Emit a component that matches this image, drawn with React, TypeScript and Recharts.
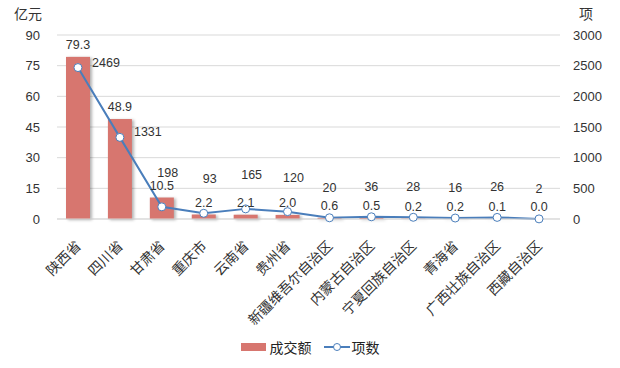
import React from 'react';
import { ComposedChart, Bar, Line, XAxis, YAxis, CartesianGrid, Legend, LabelList } from 'recharts';

const categories = ['陕西省', '四川省', '甘肃省', '重庆市', '云南省', '贵州省', '新疆维吾尔自治区', '内蒙古自治区', '宁夏回族自治区', '青海省', '广西壮族自治区', '西藏自治区'];
const amounts = [79.3, 48.9, 10.5, 2.2, 2.1, 2.0, 0.6, 0.5, 0.2, 0.2, 0.1, 0.0];
const counts = [2469, 1331, 198, 93, 165, 120, 20, 36, 28, 16, 26, 2];
const leftTicks = [0, 15, 30, 45, 60, 75, 90];
const rightTicks = [0, 500, 1000, 1500, 2000, 2500, 3000];

const data = categories.map((name, i) => ({ name, amount: amounts[i], count: counts[i] }));

const BAR_COLOR = '#D7766F';
const LINE_COLOR = '#4A7EBB';
const TEXT = '#333333';
const NUM_FONT = '"Liberation Sans", Arial, sans-serif';
const CJK_FONT = '"Noto Sans CJK SC", sans-serif';

const CatTick = (props: any) => {
  const { x, y, payload } = props;
  return (
    <g transform={`translate(${x - 4},${y + 12})`}>
      <text transform="rotate(-45)" textAnchor="end" dy="0.8em" fontSize={14} fontFamily={CJK_FONT} fill={TEXT}>
        {payload.value}
      </text>
    </g>
  );
};

const LineLabel = (props: any) => {
  const { x, y, value, index } = props;
  let lx = x;
  let ly = y;
  if (index < 2) {
    lx = x + 28;
    ly = y - 1;
  } else if (index < 6) {
    lx = x + 6;
    ly = y - 30;
  } else {
    ly = y - 26;
  }
  return (
    <text x={lx} y={ly} textAnchor="middle" fontSize={12.5} fontFamily={NUM_FONT} fill={TEXT}>
      {value}
    </text>
  );
};

const BarLabel = (props: any) => {
  const { x, y, width, value } = props;
  return (
    <text x={x + width / 2} y={y - 8} textAnchor="middle" fontSize={12.5} fontFamily={NUM_FONT} fill={TEXT}>
      {Number(value).toFixed(1)}
    </text>
  );
};

const BarShape = (props: any) => {
  const { x, y, width, height } = props;
  if (!height || height <= 0) return null;
  return (
    <rect x={x} y={y} width={width} height={height} fill={BAR_COLOR}
      style={{ filter: 'drop-shadow(2px 1px 1.5px rgba(0,0,0,0.3))' }} />
  );
};

const LegendContent = () => (
  <div style={{ height: 40, boxSizing: 'border-box', paddingTop: 14, display: 'flex', justifyContent: 'center', alignItems: 'flex-start', fontFamily: CJK_FONT, fontSize: 14, color: '#222', lineHeight: '20px' }}>
    <span style={{ display: 'inline-block', width: 25, height: 8, background: BAR_COLOR, marginRight: 4, marginTop: 6 }} />
    <span style={{ marginRight: 12 }}>成交额</span>
    <svg width={26} height={10} style={{ marginRight: 2, marginTop: 5 }}>
      <line x1={0} y1={5} x2={26} y2={5} stroke={LINE_COLOR} strokeWidth={2} />
      <circle cx={13} cy={5} r={3.5} fill="#fff" stroke={LINE_COLOR} strokeWidth={1} />
    </svg>
    <span>项数</span>
  </div>
);

export default function App() {
  return (
    <div style={{ position: 'absolute', left: 0, top: 0, width: 620, height: 368, background: '#fff' }}>
      <div style={{ position: 'absolute', left: 14, top: 3, fontFamily: CJK_FONT, fontSize: 14, color: TEXT, lineHeight: '20px' }}>亿元</div>
      <div style={{ position: 'absolute', left: 579, top: 3, fontFamily: CJK_FONT, fontSize: 14, color: TEXT, lineHeight: '20px' }}>项</div>
      <ComposedChart width={620} height={368} data={data} margin={{ top: 35, right: 0, left: 0, bottom: 5 }} barCategoryGap={0}>
        <CartesianGrid vertical={false} stroke="#D9D9D9" yAxisId="left" />
        <XAxis dataKey="name" interval={0} tickLine={false} axisLine={{ stroke: '#D9D9D9' }} height={104} tick={<CatTick />} />
        <YAxis yAxisId="left" orientation="left" width={57} domain={[0, 90]} ticks={leftTicks} axisLine={false} tickLine={false}
          tickSize={0} tickMargin={17} tick={{ fontSize: 13, fontFamily: NUM_FONT, fill: TEXT }} />
        <YAxis yAxisId="right" orientation="right" width={60} domain={[0, 3000]} ticks={rightTicks} axisLine={false} tickLine={false}
          tickSize={0} tickMargin={13} tick={{ fontSize: 13, fontFamily: NUM_FONT, fill: TEXT }} />
        <Legend verticalAlign="bottom" height={40} content={<LegendContent />} />
        <Bar yAxisId="left" dataKey="amount" name="成交额" barSize={24} fill={BAR_COLOR} shape={<BarShape />} isAnimationActive={false}>
          <LabelList dataKey="amount" content={<BarLabel />} />
        </Bar>
        <Line yAxisId="right" dataKey="count" name="项数" stroke={LINE_COLOR} strokeWidth={2}
          dot={{ r: 4, fill: '#fff', stroke: LINE_COLOR, strokeWidth: 1 }} isAnimationActive={false}>
          <LabelList dataKey="count" content={<LineLabel />} />
        </Line>
      </ComposedChart>
    </div>
  );
}
